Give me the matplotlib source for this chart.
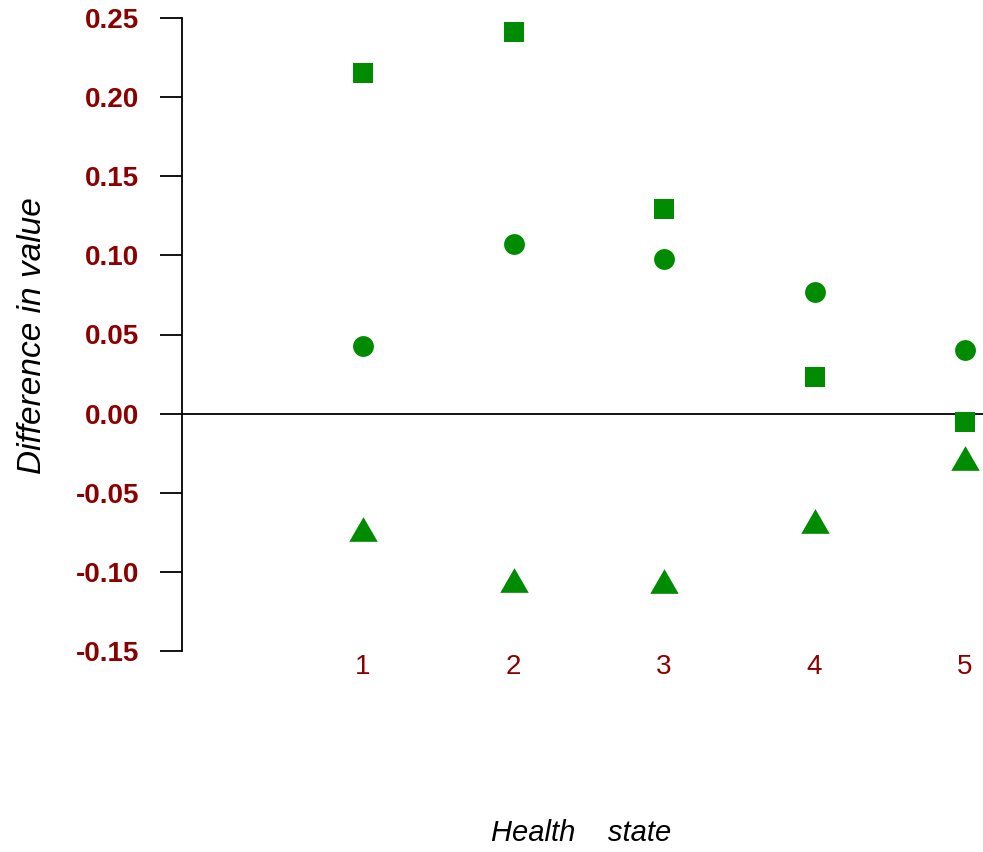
import numpy as np
import matplotlib
matplotlib.use('Agg')
import matplotlib.pyplot as plt
from matplotlib.path import Path

plt.rcParams['font.family'] = ['Liberation Sans', 'DejaVu Sans']

# 健康状态及三组差值
states = [1, 2, 3, 4, 5]
diff_square = [0.215, 0.241, 0.129, 0.023, -0.005]
diff_circle = [0.043, 0.107, 0.098, 0.077, 0.040]
diff_triangle = [-0.073, -0.105, -0.106, -0.068, -0.028]
yticks = [-0.15, -0.10, -0.05, 0.00, 0.05, 0.10, 0.15, 0.20, 0.25]

green = '#008B00'
darkred = '#8B0000'

# 等边三角形标记
tri = Path([(-1, -0.866), (1, -0.866), (0, 0.866), (-1, -0.866)],
           [Path.MOVETO, Path.LINETO, Path.LINETO, Path.CLOSEPOLY])

fig = plt.figure(figsize=(9.83, 8.52), dpi=100)
ax = fig.add_axes([182/983, 1-651/852, (983-182)/983, 633/852])

ax.axhline(0, color='black', lw=1.3, zorder=1)
ax.plot(states, diff_square, ls='none', marker='s', ms=14.5, color=green, mew=0, clip_on=False)
ax.plot(states, diff_circle, ls='none', marker='o', ms=15, color=green, mew=0, clip_on=False)
ax.plot(states, diff_triangle, ls='none', marker=tri, ms=20.5, color=green, mew=0, clip_on=False)

ax.set_xlim(1-181/150.5, 1+(983-363)/150.5)
ax.set_ylim(-0.15, 0.25)

for s in ['top', 'right', 'bottom']:
    ax.spines[s].set_visible(False)
ax.spines['left'].set_linewidth(1.3)

ax.set_yticks(yticks)
ax.set_yticklabels(['%.2f' % v for v in yticks], fontsize=20, fontweight='bold', color=darkred)
ax.tick_params(axis='y', length=16, width=1.3, pad=15)

ax.set_xticks(states)
ax.set_xticklabels([str(s) for s in states], fontsize=20, color=darkred)
ax.tick_params(axis='x', length=0, pad=2)

fig.text(33/983, 1-336/852, 'Difference in value', rotation=90, style='italic',
         fontsize=24, ha='center', va='center')
fig.text(581/983, 1-841/852, 'Health    state', style='italic',
         fontsize=21, ha='center', va='baseline')

fig.savefig('out.png', dpi=100)
